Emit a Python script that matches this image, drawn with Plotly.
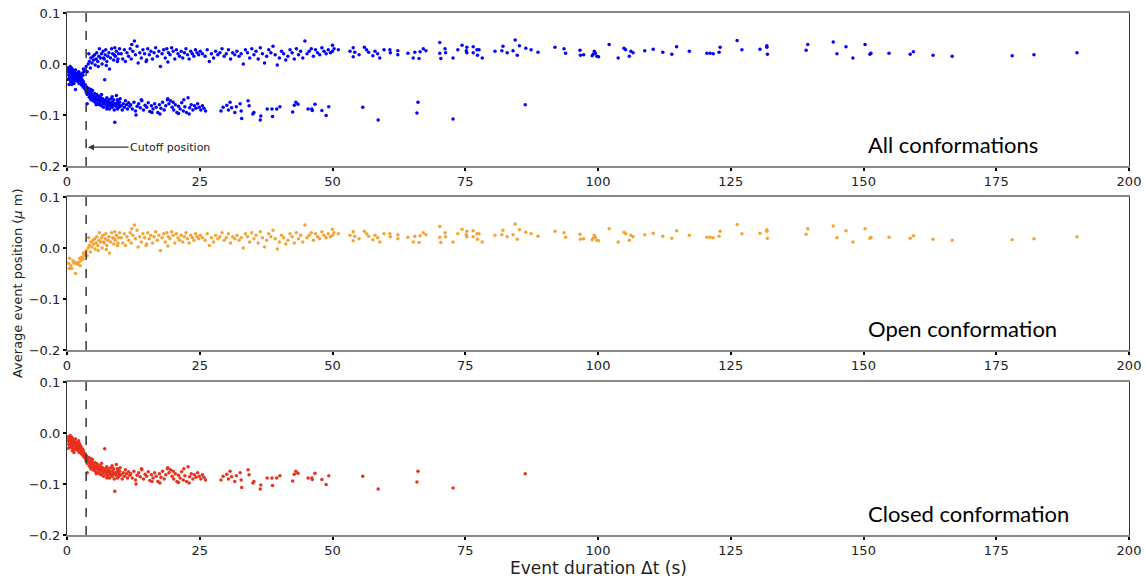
import plotly.graph_objects as go

# ---------------- data ----------------
open_pts = [
    (0.3,-0.03),(0.5,-0.02),(0.7,-0.035),(0.9,-0.04),(1.1,-0.025),(1.3,-0.03),(1.6,-0.05),(1.8,-0.03),
    (2.0,-0.032),(2.2,-0.028),(2.4,-0.02),(2.6,-0.025),(2.8,-0.018),(3.0,-0.022),(3.2,-0.015),(3.4,-0.012),
    (0.4,-0.04),(2.5,-0.035),(3.1,-0.01),(1.5,-0.028),
    (3.6,-0.005),(3.8,-0.015),(4.0,0.0),(4.2,0.005),(4.4,-0.008),(4.5,0.012),(4.7,0.002),(4.9,0.015),
    (5.0,0.008),(5.2,0.018),(5.3,-0.002),(5.5,0.01),(5.6,0.022),(5.8,0.005),(6.0,0.015),(6.1,0.03),
    (6.3,0.012),(6.5,0.02),(6.6,0.0),(6.8,0.025),(7.0,0.01),(7.2,0.018),(7.3,0.028),(7.5,0.005),
    (7.7,0.015),(7.9,0.022),(8.0,-0.01),(8.2,0.012),(8.4,0.03),(8.6,0.02),(8.8,0.008),(9.0,0.032),
    (9.1,0.015),(9.3,0.025),(9.5,0.005),(9.7,0.02),(9.9,0.03),(4.1,0.02),(5.9,-0.005),(7.4,-0.003),
    (8.9,0.018),(6.9,0.012),(9.6,0.01),
    (10.2,0.02),(10.5,0.01),(10.8,0.028),(11.0,0.005),(11.3,0.022),(11.6,0.015),(11.9,0.03),(12.1,0.01),
    (12.4,0.025),(12.7,0.045),(12.9,0.018),(13.2,0.035),(13.4,0.002),(13.7,0.022),(14.0,0.012),(14.3,0.028),
    (14.6,0.02),(14.9,0.005),(15.2,0.03),(15.5,0.018),(15.8,0.025),(16.1,0.01),(16.4,0.022),(16.7,0.032),
    (17.0,0.015),(17.3,0.025),(17.6,-0.005),(17.9,0.02),(18.2,0.028),(18.5,0.012),(18.8,0.03),(19.1,0.022),
    (19.4,0.018),(19.7,0.032),(20.0,0.025),(20.3,0.01),(20.6,0.028),(20.9,0.02),(21.2,0.015),(21.5,0.025),
    (21.8,0.012),(22.1,0.022),(22.4,0.03),(22.7,0.018),(23.0,0.01),(23.3,0.025),(23.6,0.02),(23.9,0.015),
    (24.2,0.028),(24.5,0.022),(24.8,0.018),(25.1,0.025),(12.2,0.038),(15.0,0.008),(19.0,0.004),
    (25.5,0.02),(26.0,0.015),(26.4,0.028),(26.8,0.005),(27.2,0.02),(27.6,0.012),(28.0,0.025),(28.4,0.018),
    (28.8,0.022),(29.2,0.03),(29.6,0.015),(30.0,0.02),(30.4,0.028),(30.8,0.01),(31.2,0.022),(31.6,0.018),
    (32.0,0.025),(32.4,0.015),(32.8,0.02),(33.2,0.0),(33.6,0.028),(34.0,0.022),(34.4,0.012),(34.8,0.03),
    (35.2,0.018),(35.6,0.025),(36.0,0.01),(36.4,0.032),(36.8,0.02),(37.2,0.002),(37.6,0.015),(38.0,0.028),
    (38.4,0.022),(38.8,0.035),(39.2,0.018),(39.6,-0.002),(40.0,0.012),(40.4,0.025),(40.8,0.02),(41.2,0.008),
    (41.6,0.015),(42.0,0.028),(42.4,0.022),(42.8,0.01),(43.2,0.03),(43.6,0.018),(44.0,0.025),(44.4,0.012),
    (44.8,0.045),(45.2,0.02),(45.6,0.025),(46.0,0.03),(46.4,0.015),(46.8,0.028),(47.2,0.022),(47.6,0.018),
    (48.0,0.032),(48.4,0.025),(48.8,0.02),(49.2,0.028),(49.6,0.022),(50.0,0.025),(50.3,0.03),
    (50.0,0.037),(51.1,0.028),(53.3,0.025),(53.9,0.032),(53.9,0.014),(54.2,0.023),(55.0,0.018),(56.0,0.033),
    (56.4,0.028),(56.8,0.023),(57.6,0.016),(58.0,0.025),(58.5,0.02),(58.9,0.012),(59.7,0.028),(60.8,0.028),
    (60.9,0.022),(62.3,0.026),(62.3,0.018),(64.2,0.021),(65.2,0.012),(65.5,0.023),(66.3,0.011),(66.5,0.024),
    (67.1,0.03),(67.6,0.026),(70.2,0.042),(70.2,0.021),(70.4,0.011),(71.2,0.03),(71.3,0.022),(72.7,0.012),
    (73.6,0.028),(74.4,0.037),(75.2,0.026),(75.3,0.033),(75.3,0.022),(76.5,0.034),(76.5,0.022),(77.2,0.028),
    (77.6,0.028),(77.3,0.017),(78.2,0.012),(80.6,0.025),(81.9,0.026),(82.1,0.035),(82.9,0.022),(84.0,0.026),
    (84.4,0.047),(84.8,0.017),(85.2,0.036),(86.4,0.031),(87.4,0.028),(88.7,0.023),(91.9,0.033),(93.6,0.03),
    (93.9,0.021),(96.6,0.027),(96.7,0.017),(97.3,0.018),(98.9,0.016),(99.1,0.019),(99.3,0.025),(99.5,0.021),
    (99.8,0.015),(100.1,0.014),(102.1,0.038),(103.8,0.012),(104.9,0.031),(105.2,0.028),(105.9,0.015),
    (106.2,0.025),(106.6,0.022),(108.8,0.026),(110.4,0.029),(112.2,0.023),(113.9,0.019),(114.8,0.034),
    (117.2,0.025),(120.5,0.021),(121.1,0.021),(121.7,0.02),(122.8,0.023),(123.0,0.033),(126.2,0.046),
    (127.1,0.028),(130.5,0.029),(131.8,0.036),(131.8,0.033),(131.9,0.019),(139.2,0.027),(139.5,0.038),
    (144.3,0.043),(145.0,0.02),(146.7,0.034),(148.0,0.012),(150.3,0.038),(151.2,0.019),(151.4,0.021),
    (154.8,0.021),(158.8,0.019),(159.4,0.024),(163.1,0.017),(166.7,0.015),(178.0,0.016),(182.1,0.018),
    (190.2,0.022),
]

closed_pts = [
    (0.2,-0.008),(0.3,-0.015),(0.35,-0.022),(0.4,-0.012),(0.45,-0.018),(0.5,-0.025),(0.55,-0.01),(0.6,-0.02),
    (0.65,-0.014),(0.7,-0.028),(0.75,-0.017),(0.8,-0.022),(0.85,-0.008),(0.9,-0.019),(0.95,-0.026),(1.0,-0.015),
    (1.05,-0.021),(1.1,-0.03),(1.15,-0.012),(1.2,-0.024),(1.25,-0.018),(1.3,-0.027),(1.35,-0.02),(1.4,-0.032),
    (1.45,-0.016),(1.5,-0.025),(1.55,-0.022),(1.6,-0.029),(1.65,-0.019),(1.7,-0.026),(1.75,-0.033),(1.8,-0.021),
    (1.85,-0.028),(1.9,-0.024),(1.95,-0.031),(2.0,-0.018),(2.05,-0.027),(2.1,-0.035),(2.15,-0.023),(2.2,-0.03),
    (2.25,-0.026),(2.3,-0.038),(2.35,-0.021),(2.4,-0.032),(2.45,-0.028),(2.5,-0.036),(2.55,-0.025),(2.6,-0.031),
    (2.7,-0.04),(2.75,-0.029),(2.8,-0.035),(2.85,-0.042),(2.9,-0.032),(3.0,-0.038),(3.05,-0.045),(3.1,-0.035),
    (3.2,-0.042),(3.3,-0.048),(3.4,-0.04),(3.5,-0.05),(0.25,-0.03),(1.0,-0.035),(1.6,-0.012),(2.2,-0.015),
    (0.6,-0.005),(1.3,-0.038),
    (3.6,-0.055),(3.7,-0.045),(3.8,-0.06),(3.9,-0.052),(4.0,-0.058),(4.1,-0.048),(4.2,-0.065),(4.3,-0.055),
    (4.4,-0.062),(4.5,-0.07),(4.6,-0.058),(4.7,-0.066),(4.8,-0.052),(4.9,-0.072),(5.0,-0.062),(5.1,-0.068),
    (5.2,-0.058),(5.3,-0.075),(5.4,-0.065),(5.5,-0.07),(5.6,-0.06),(5.7,-0.078),(5.8,-0.068),(5.9,-0.072),
    (6.0,-0.063),(6.1,-0.08),(6.2,-0.07),(6.3,-0.075),(6.4,-0.066),(6.5,-0.082),(6.6,-0.072),(6.7,-0.068),
    (6.8,-0.078),(6.9,-0.085),(7.0,-0.074),(7.1,-0.031),(7.2,-0.07),(7.3,-0.08),(7.4,-0.076),(7.5,-0.066),
    (7.6,-0.084),(7.7,-0.073),(7.8,-0.079),(7.9,-0.07),(8.0,-0.088),(8.1,-0.076),(8.2,-0.082),(8.3,-0.068),
    (8.4,-0.078),(8.5,-0.085),(8.6,-0.074),(8.7,-0.08),(8.8,-0.07),(8.9,-0.09),(9.0,-0.114),(9.1,-0.078),
    (9.2,-0.083),(9.3,-0.062),(9.4,-0.076),(9.5,-0.088),(9.6,-0.072),(9.7,-0.08),(9.8,-0.085),(9.9,-0.075),
    (10.0,-0.068),(10.2,-0.082),(10.4,-0.09),(10.6,-0.078),(10.8,-0.085),(11.0,-0.072),(11.2,-0.08),
    (11.4,-0.088),(11.6,-0.076),(11.8,-0.083),(4.5,-0.05),(5.5,-0.08),(6.5,-0.06),(7.5,-0.088),(8.5,-0.064),
    (9.5,-0.07),(3.8,-0.078),
    (12.0,-0.08),(12.3,-0.088),(12.6,-0.075),(12.9,-0.092),(13.2,-0.083),(13.5,-0.078),(13.8,-0.086),
    (14.1,-0.072),(14.4,-0.09),(14.7,-0.081),(15.0,-0.085),(15.3,-0.076),(15.6,-0.093),(15.9,-0.082),
    (16.2,-0.088),(16.5,-0.078),(16.8,-0.085),(17.1,-0.095),(17.4,-0.08),(17.7,-0.087),(18.0,-0.075),
    (18.3,-0.09),(18.6,-0.082),(18.9,-0.07),(19.2,-0.078),(19.5,-0.072),(19.8,-0.085),(20.1,-0.09),
    (20.4,-0.08),(20.7,-0.095),(21.0,-0.083),(21.3,-0.088),(21.6,-0.076),(21.9,-0.092),(22.2,-0.084),
    (22.5,-0.095),(22.8,-0.066),(23.1,-0.086),(23.4,-0.08),(23.7,-0.09),(24.0,-0.082),(24.3,-0.087),
    (24.6,-0.078),(24.9,-0.085),(25.2,-0.09),(25.5,-0.082),(25.8,-0.087),(26.1,-0.092),(13.0,-0.1),
    (16.0,-0.095),(19.0,-0.068),(21.0,-0.097),(14.0,-0.07),(17.5,-0.098),(20.0,-0.075),(22.0,-0.07),
    (23.0,-0.098),
    (29.0,-0.092),(29.4,-0.085),(30.1,-0.081),(30.4,-0.09),(30.7,-0.075),(31.0,-0.086),(31.6,-0.095),
    (31.9,-0.084),(32.6,-0.078),(32.8,-0.092),(32.9,-0.107),(34.1,-0.072),(34.3,-0.082),(35.0,-0.098),
    (35.2,-0.095),(36.5,-0.102),(36.4,-0.11),(37.7,-0.088),(38.6,-0.088),(38.7,-0.103),(39.5,-0.088),
    (40.1,-0.084),(42.5,-0.094),(42.8,-0.081),(43.1,-0.075),(43.5,-0.079),(45.4,-0.088),(46.1,-0.088),
    (46.2,-0.091),(46.7,-0.079),(48.0,-0.091),(48.8,-0.101),(49.3,-0.084),(55.7,-0.085),(58.6,-0.11),
    (65.9,-0.096),(66.1,-0.075),(72.7,-0.108),(86.3,-0.08),
]

open_x = [p[0] for p in open_pts]
open_y = [p[1] for p in open_pts]
closed_x = [p[0] for p in closed_pts]
closed_y = [p[1] for p in closed_pts]
all_x = open_x + closed_x
all_y = open_y + closed_y

cutoff = 3.6
x_ticks = [0, 25, 50, 75, 100, 125, 150, 175, 200]
y_ticks = [0.1, 0.0, -0.1, -0.2]
panel_labels = ["All conformations", "Open conformation", "Closed conformation"]
colors = ["#0000ff", "#f5a434", "#e8321e"]

# ---------------- figure ----------------
fig = go.Figure()
series = [(all_x, all_y), (open_x, open_y), (closed_x, closed_y)]
for i, ((xs, ys), c) in enumerate(zip(series, colors)):
    sfx = "" if i == 0 else str(i + 1)
    fig.add_trace(go.Scatter(x=xs, y=ys, mode="markers", xaxis="x" + sfx, yaxis="y" + sfx,
                             marker=dict(color=c, size=3.5, line=dict(width=0)),
                             showlegend=False, hoverinfo="x+y"))

domains = [[0.7069, 1.0], [0.3544, 0.6475], [0.0, 0.2931]]
tickfont = dict(family="DejaVu Sans", size=13, color="#222")
layout = dict(width=1146, height=578, autosize=False, plot_bgcolor="white", paper_bgcolor="white",
              margin=dict(l=67, r=17, t=13, b=43, pad=0, autoexpand=False), showlegend=False)
for i in range(3):
    sfx = "" if i == 0 else str(i + 1)
    layout["xaxis" + sfx] = dict(domain=[0, 1], range=[0, 200], anchor="y" + sfx,
                                 tickvals=x_ticks, ticktext=[str(v) for v in x_ticks],
                                 showgrid=False, zeroline=False, showline=True, mirror=True,
                                 linecolor="#8a8a8a", linewidth=1.5, ticks="outside", ticklen=3,
                                 tickwidth=2, tickcolor="black", tickfont=tickfont, automargin=False)
    layout["yaxis" + sfx] = dict(domain=domains[i], range=[-0.2, 0.1], anchor="x" + sfx,
                                 tickvals=y_ticks, tickformat=".1f",
                                 showgrid=False, zeroline=False, showline=True, mirror=True,
                                 linecolor="#333", linewidth=1.2, ticks="outside", ticklen=3,
                                 tickwidth=2, tickcolor="black", tickfont=tickfont, automargin=False)
fig.update_layout(**layout)

shapes = []
annotations = []
for i in range(3):
    sfx = "" if i == 0 else str(i + 1)
    shapes.append(dict(type="line", xref="x" + sfx, yref="y" + sfx + " domain",
                       x0=cutoff, x1=cutoff, y0=0, y1=1,
                       line=dict(color="#333", width=1.5, dash="dash")))
    annotations.append(dict(xref="x" + sfx, yref="y" + sfx, x=150.5, y=-0.158,
                            text=panel_labels[i], showarrow=False, xanchor="left", yanchor="middle",
                            font=dict(family="Lato", size=22, color="black")))

annotations.append(dict(xref="x", yref="y", x=3.95, y=-0.163, ax=82, ay=0,
                        text="Cutoff position", showarrow=True, arrowhead=2, arrowsize=1,
                        arrowwidth=1.2, arrowcolor="#2b3a4a",
                        font=dict(family="DejaVu Sans", size=11, color="#222")))
annotations.append(dict(xref="paper", yref="paper", x=-0.046, y=0.483, textangle=-90,
                        text="Average event position (<i>μ</i> m)", showarrow=False,
                        xanchor="center", yanchor="middle",
                        font=dict(family="DejaVu Sans", size=13, color="#222")))
annotations.append(dict(xref="paper", yref="paper", x=0.5, y=-0.063,
                        text="Event duration Δt (s)", showarrow=False,
                        xanchor="center", yanchor="middle",
                        font=dict(family="DejaVu Sans", size=17, color="#222")))
fig.update_layout(shapes=shapes, annotations=annotations)

fig.write_html("out.html", config={"responsive": False, "displayModeBar": False},
               post_script="document.body.style.margin='0';document.body.style.overflow='hidden';")
